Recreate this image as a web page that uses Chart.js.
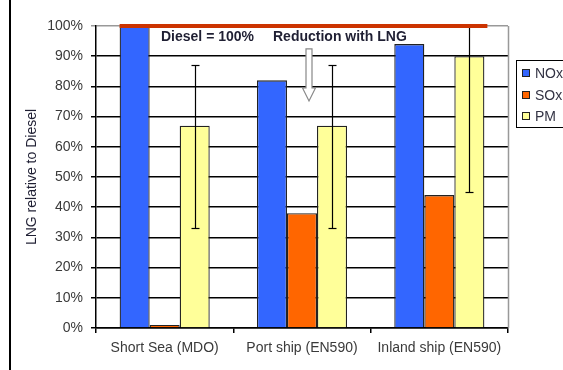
<!DOCTYPE html>
<html><head><meta charset="utf-8">
<script src="https://cdn.jsdelivr.net/npm/chart.js@4.4.0/dist/chart.umd.min.js"></script>
<style>html,body{margin:0;padding:0;background:#fff;overflow:hidden} #wrap{width:563px;height:370px;position:relative}</style>
</head><body><div id="wrap"><canvas id="c" width="563" height="370"></canvas></div>
<script>
const categories = ['Short Sea (MDO)', 'Port ship (EN590)', 'Inland ship (EN590)'];
const seriesNames = ['NOx', 'SOx', 'PM'];
const noxValues = [100, 82, 94];
const soxValues = [1, 38, 44];
const pmValues = [67, 67, 90];
const pmErrorLow = [33, 33, 45];
const pmErrorHigh = [87, 87, 130];
const yTickValues = [0, 10, 20, 30, 40, 50, 60, 70, 80, 90, 100];
const dieselReference = 100;
const annotationTexts = ['Diesel = 100%', 'Reduction with LNG'];
const yAxisTitle = 'LNG relative to Diesel';
const seriesColors = ['#3366ff', '#ff6600', '#ffff99'];

const FONT = "'Liberation Sans', Arial, sans-serif";
Chart.defaults.font.family = FONT;
Chart.defaults.font.size = 14;
Chart.defaults.color = '#3a3a3a';

const overlay = {
  id: 'overlay',
  afterDatasetsDraw(chart) {
    const ctx = chart.ctx, ca = chart.chartArea;
    const ys = chart.scales.y;
    ctx.save();
    // error bars on PM
    const pmMeta = chart.getDatasetMeta(2);
    ctx.strokeStyle = '#000'; ctx.lineWidth = 1.2;
    pmMeta.data.forEach((el, i) => {
      const x = Math.round(el.x) + 0.5;
      const yl = ys.getPixelForValue(pmErrorLow[i]);
      const yh = ys.getPixelForValue(pmErrorHigh[i]);
      const top = Math.max(yh, ca.top), bot = Math.min(yl, ca.bottom);
      ctx.beginPath(); ctx.moveTo(x, top); ctx.lineTo(x, bot); ctx.stroke();
      [yl, yh].forEach(yy => {
        if (yy >= ca.top && yy <= ca.bottom) {
          const yr = Math.round(yy) + 0.5;
          ctx.beginPath(); ctx.moveTo(x - 4, yr); ctx.lineTo(x + 4, yr); ctx.stroke();
        }
      });
    });
    // right plot border
    ctx.strokeStyle = '#999'; ctx.lineWidth = 1.5;
    ctx.beginPath(); ctx.moveTo(Math.round(ca.right) + 0.5, ca.top); ctx.lineTo(Math.round(ca.right) + 0.5, ca.bottom); ctx.stroke();
    // Diesel reference line
    const m0 = chart.getDatasetMeta(0).data[0];
    const mLast = pmMeta.data[pmMeta.data.length - 1];
    const yr = ys.getPixelForValue(dieselReference);
    ctx.strokeStyle = '#cc3300'; ctx.lineWidth = 4;
    ctx.beginPath(); ctx.moveTo(m0.x - m0.width / 2, yr); ctx.lineTo(mLast.x + mLast.width / 2 + 3, yr); ctx.stroke();
    // annotation texts
    ctx.font = 'bold 14px ' + FONT;
    ctx.fillStyle = '#1f1f33';
    ctx.textBaseline = 'middle'; ctx.textAlign = 'left';
    const ty = ys.getPixelForValue(96.3);
    ctx.fillText(annotationTexts[0], ca.left + 65, ty);
    ctx.fillText(annotationTexts[1], ca.left + 177, ty);
    // hollow arrow
    const ax = ca.left + 213;
    const aTop = ys.getPixelForValue(92.4), aHead = ys.getPixelForValue(79.5), aTip = ys.getPixelForValue(75.2);
    ctx.beginPath();
    ctx.moveTo(ax - 3, aTop); ctx.lineTo(ax + 3, aTop); ctx.lineTo(ax + 3, aHead);
    ctx.lineTo(ax + 6.5, aHead); ctx.lineTo(ax, aTip); ctx.lineTo(ax - 6.5, aHead);
    ctx.lineTo(ax - 3, aHead); ctx.closePath();
    ctx.fillStyle = '#fff'; ctx.fill();
    ctx.strokeStyle = '#888'; ctx.lineWidth = 1.2; ctx.stroke();
    ctx.restore();
  },
  afterDraw(chart) {
    const ctx = chart.ctx;
    ctx.save();
    // left frame line
    ctx.fillStyle = '#000';
    ctx.fillRect(9, 0, 2, chart.height);
    // legend
    ctx.strokeStyle = '#000'; ctx.lineWidth = 1;
    ctx.strokeRect(516.5, 60.5, 60, 67);
    ctx.font = '14px ' + FONT;
    ctx.textBaseline = 'middle'; ctx.textAlign = 'left';
    const ly = [73, 95, 116];
    seriesNames.forEach((n, i) => {
      ctx.fillStyle = seriesColors[i];
      ctx.fillRect(522, ly[i] - 4, 8, 8);
      ctx.strokeStyle = '#222';
      ctx.strokeRect(522.5, ly[i] - 3.5, 7, 7);
      ctx.fillStyle = '#333344';
      ctx.fillText(n, 535, ly[i] + 1);
    });
    ctx.restore();
  }
};

new Chart(document.getElementById('c'), {
  type: 'bar',
  data: {
    labels: categories,
    datasets: [
      { label: seriesNames[0], data: noxValues, backgroundColor: seriesColors[0] },
      { label: seriesNames[1], data: soxValues, backgroundColor: seriesColors[1] },
      { label: seriesNames[2], data: pmValues, backgroundColor: seriesColors[2] }
    ]
  },
  options: {
    responsive: false,
    animation: false,
    devicePixelRatio: 1,
    layout: { padding: { top: 26, right: 55, left: 10, bottom: 0 } },
    datasets: { bar: { borderColor: '#222', borderWidth: 1.3, categoryPercentage: 0.656, barPercentage: 1 } },
    plugins: { legend: { display: false }, tooltip: { enabled: false } },
    scales: {
      x: {
        grid: { display: true, drawOnChartArea: false, drawTicks: true, tickLength: 5, color: '#000', lineWidth: 1.5, offset: true },
        border: { display: true, color: '#000', width: 1.5 },
        ticks: { padding: 7, color: '#3a3a3a', font: { size: 14 } },
        afterFit(s) { s.height = 42; }
      },
      y: {
        min: 0, max: 100,
        afterBuildTicks(s) { s.ticks = yTickValues.map(v => ({ value: v })); },
        grid: {
          color: c => (c.tick && c.tick.value === 100) ? '#999' : '#000',
          tickLength: 5, lineWidth: 1.5
        },
        border: { display: true, color: '#000', width: 1.5 },
        ticks: { padding: 8, color: '#3a3a3a', font: { size: 14 }, callback: v => v + '%' },
        title: { display: true, text: yAxisTitle, font: { size: 14 }, color: '#1f1f33', padding: { top: 14, bottom: 0 } },
        afterFit(s) { s.width = 86; }
      }
    }
  },
  plugins: [overlay]
});
</script>
</body></html>
